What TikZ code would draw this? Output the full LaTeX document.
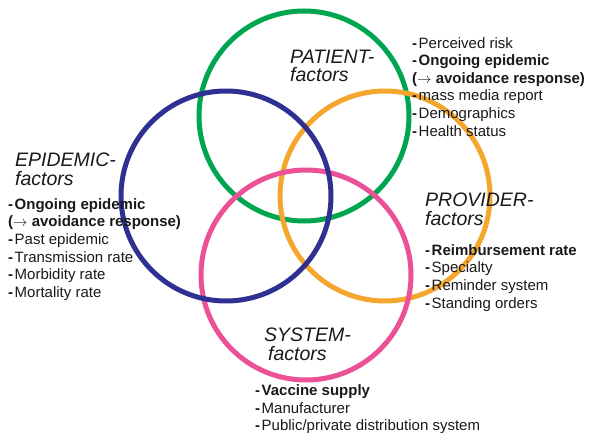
\documentclass[tikz,border=0pt]{standalone}
\usepackage{fontspec}
\setmainfont{Liberation Sans}
\definecolor{ringgreen}{RGB}{0,165,80}
\definecolor{ringblue}{RGB}{46,49,146}
\definecolor{ringorange}{RGB}{245,166,45}
\definecolor{ringpink}{RGB}{236,80,150}
\newcommand{\lidash}{\textbf{-}\kern1.5pt}
\tikzset{
  ring/.style={draw, circle, line width=5pt, minimum size=210pt, inner sep=0pt},
  head/.style={anchor=base west, inner sep=0pt, align=left, text=black!90,
    font=\fontsize{19.5}{18.5}\selectfont\itshape},
  list/.style={anchor=base west, inner sep=0pt, align=left, text=black!90,
    font=\fontsize{15}{17.6}\selectfont}
}
\begin{document}
\begin{tikzpicture}[x=1pt, y=-1pt]
    \useasboundingbox (0,0) rectangle (597,433);
    % the four rings
    \node[ring, ringgreen] (patient) at (304,116) {};
    \node[ring, ringorange] (provider) at (385,196) {};
    \node[ring, ringpink] (system) at (306,275) {};
    \node[ring, ringblue] (epidemic) at (226,196) {};
    % titles (placed by the baseline of their last line)
    \node[head] (patienthead) at (290,81.7) {PATIENT-\\factors};
    \node[head] (epidemichead) at (15,185) {EPIDEMIC-\\factors};
    \node[head] (providerhead) at (425,225) {PROVIDER-\\factors};
    \node[head] (systemhead) at (264,360) {SYSTEM-\\\hspace*{4pt}factors};
    % factor lists
    \node[list] (patientlist) at (412,136) {\lidash Perceived risk\\
      \lidash\textbf{Ongoing epidemic}\\
      \textbf{($\rightarrow$ avoidance response)}\\
      \lidash mass media report\\
      \lidash Demographics\\
      \lidash Health status};
    \node[list] (epidemiclist) at (8,297.3) {\lidash\textbf{Ongoing epidemic}\\
      \textbf{($\rightarrow$ avoidance response)}\\
      \lidash Past epidemic\\
      \lidash Transmission rate\\
      \lidash Morbidity rate\\
      \lidash Mortality rate};
    \node[list] (providerlist) at (425,308) {\lidash\textbf{Reimbursement rate}\\
      \lidash Specialty\\
      \lidash Reminder system\\
      \lidash Standing orders};
    \node[list] (systemlist) at (255,430.7) {\lidash\textbf{Vaccine supply}\\
      \lidash Manufacturer\\
      \lidash Public/private distribution system};
\end{tikzpicture}
\end{document}
